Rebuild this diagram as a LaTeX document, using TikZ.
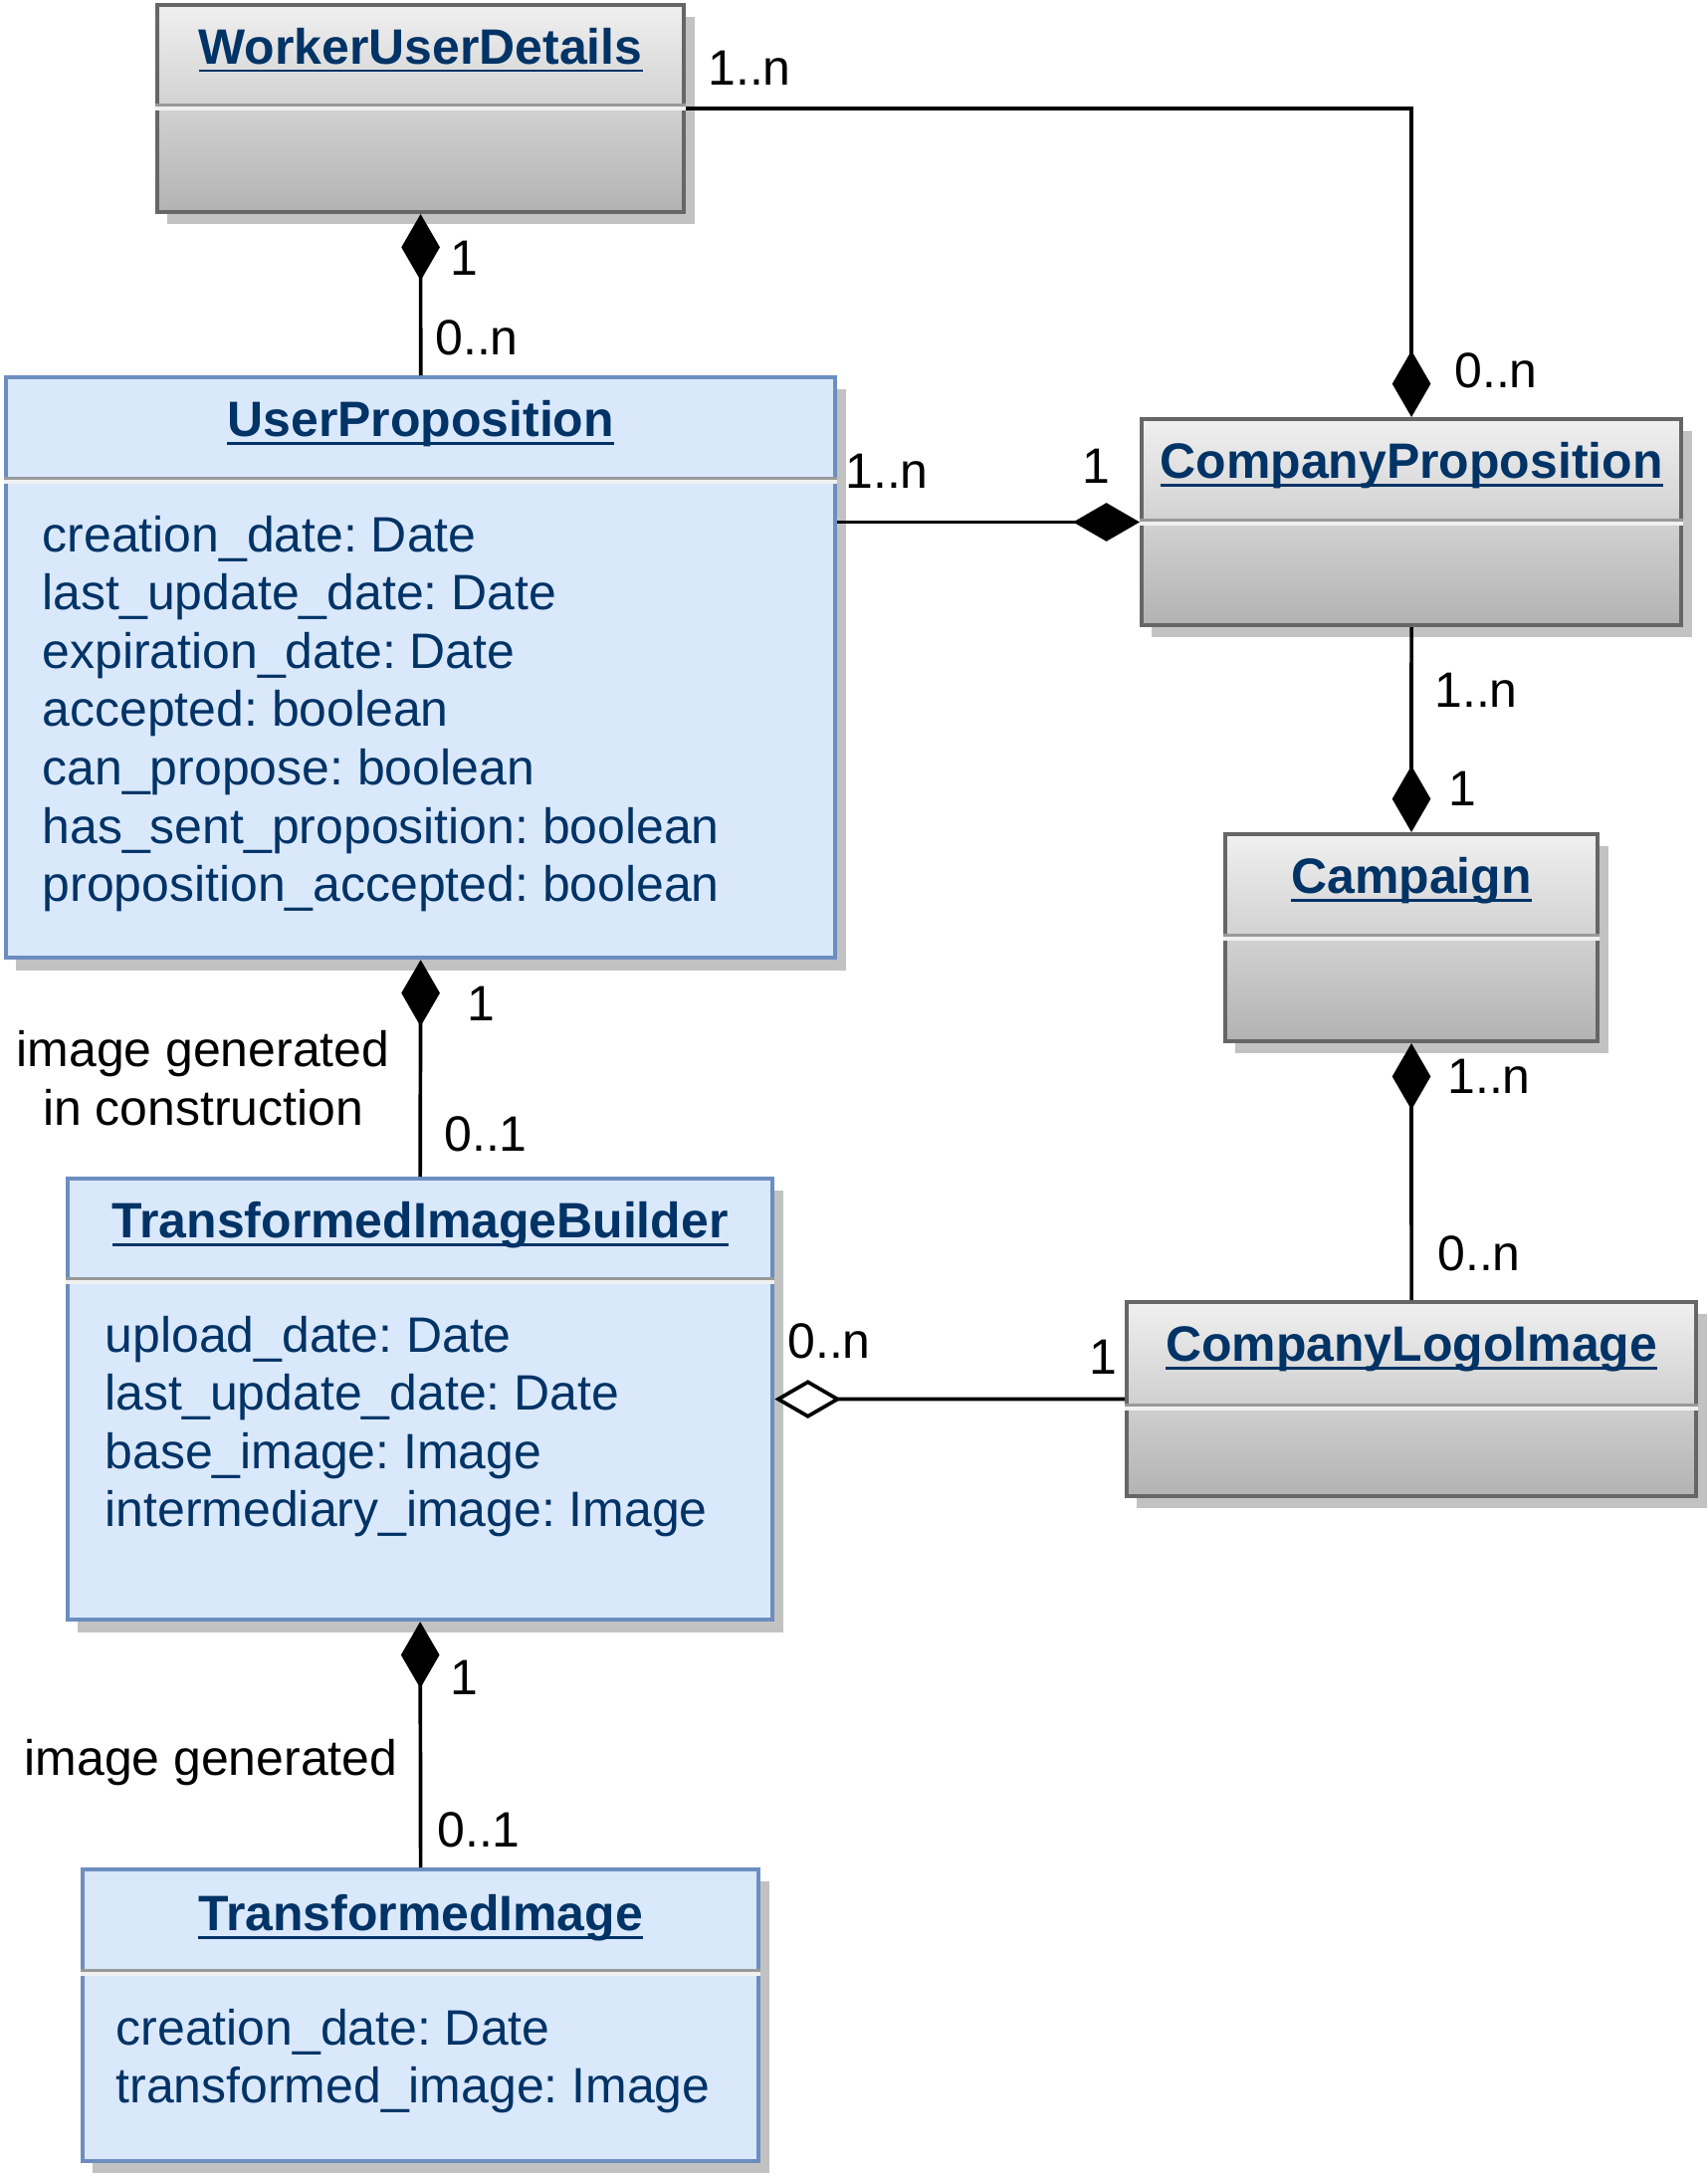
\documentclass[tikz,border=0pt]{standalone}
\usepackage{fontspec}
\setmainfont{Liberation Sans}
\usetikzlibrary{arrows.meta,shadows}

\definecolor{umlnavy}{RGB}{0,51,102}
\definecolor{umlblue}{RGB}{218,232,252}
\definecolor{umlblueline}{RGB}{108,142,191}
\definecolor{umlgrayline}{RGB}{102,102,102}

% underlined class name, the rule runs through the descenders
\newcommand{\clsname}[1]{\setbox0\hbox{\bfseries #1}\rlap{\rule[-0.17em]{\wd0}{0.06em}}\box0}

\frenchspacing

\begin{document}
\begin{tikzpicture}[x=0.01cm, y=-0.01cm,
    every node/.style={font=\fontsize{14.2}{16.7}\selectfont},
    classshadow/.style={drop shadow={shadow xshift=3pt, shadow yshift=-3.5pt, fill=black!24, opacity=1}},
    graybox/.style={draw=umlgrayline, line width=1.1pt, top color=black!6, bottom color=black!30,
        classshadow, anchor=north west, inner sep=0pt},
    bluebox/.style={draw=umlblueline, line width=1.1pt, fill=umlblue,
        classshadow, anchor=north west, inner sep=0pt},
    clstitle/.style={text=umlnavy, anchor=base, inner sep=0pt},
    attr/.style={text=umlnavy, anchor=base west, inner sep=0pt},
    mult/.style={anchor=base, inner sep=0pt},
    divline/.style={line width=0.9pt, black!40},
    divlight/.style={line width=0.9pt, black!6},
    assoc/.style={line width=1.05pt},
    comp/.style={assoc, -{Diamond[length=19pt,width=11pt]}},
    aggr/.style={assoc, -{Diamond[open,length=19pt,width=11pt]}}
]

    % Fix the page to the size of the reference (1 unit = 1 pixel)
    \useasboundingbox (0,0) rectangle (1716,2187);

    % Class boxes, placed by their top left corners
    \node[graybox, minimum width=5.29cm, minimum height=2.08cm] (wud) at (156,3) {};
    \node[bluebox, minimum width=8.33cm, minimum height=5.83cm] (up) at (4,377) {};
    \node[graybox, minimum width=5.42cm, minimum height=2.07cm] (cp) at (1145,419) {};
    \node[graybox, minimum width=3.74cm, minimum height=2.08cm] (camp) at (1229,836) {};
    \node[bluebox, minimum width=7.08cm, minimum height=4.43cm] (tib) at (66,1182) {};
    \node[graybox, minimum width=5.72cm, minimum height=1.95cm] (cli) at (1130,1306) {};
    \node[bluebox, minimum width=6.79cm, minimum height=2.93cm] (ti) at (81,1876) {};

    % Dividers between name and attribute compartments
    \foreach \n/\d in {wud/106, up/481, cp/523, camp/940, tib/1285, cli/1412, ti/1980} {
        \draw[divline] (\n.west |- 0,\d) -- (\n.east |- 0,\d);
        \draw[divlight] (\n.west |- 0,{\d+3}) -- (\n.east |- 0,{\d+3});
    }

    % Class names
    \node[clstitle] (wud-name) at (wud.north |- 0,64) {\clsname{WorkerUserDetails}};
    \node[clstitle] (up-name) at (up.north |- 0,438) {\clsname{UserProposition}};
    \node[clstitle] (cp-name) at (cp.north |- 0,480) {\clsname{CompanyProposition}};
    \node[clstitle] (camp-name) at (camp.north |- 0,897) {\clsname{Campaign}};
    \node[clstitle] (tib-name) at (tib.north |- 0,1243) {\clsname{TransformedImageBuilder}};
    \node[clstitle] (cli-name) at (cli.north |- 0,1367) {\clsname{CompanyLogoImage}};
    \node[clstitle] (ti-name) at (ti.north |- 0,1939) {\clsname{TransformedImage}};

    % Attributes, one line each
    \foreach \a [count=\i] in {creation\_date: Date, last\_update\_date: Date,
        expiration\_date: Date, accepted: boolean, can\_propose: boolean,
        has\_sent\_proposition: boolean, proposition\_accepted: boolean}
        \node[attr] (up-a\i) at (42,{554+(\i-1)*58.6}) {\a};
    \foreach \a [count=\i] in {upload\_date: Date, last\_update\_date: Date,
        base\_image: Image, intermediary\_image: Image}
        \node[attr] (tib-a\i) at (105,{1358+(\i-1)*58.6}) {\a};
    \foreach \a [count=\i] in {creation\_date: Date, transformed\_image: Image}
        \node[attr] (ti-a\i) at (116,{2054+(\i-1)*58.6}) {\a};

    % Associations
    \draw[comp] (up.north) -- (wud.south);
    \draw[comp] (wud.east) -| (cp.north);
    \draw[comp] (up.east |- cp.west) -- (cp.west);
    \draw[comp] (cp.south) -- (camp.north);
    \draw[comp] (cli.north) -- (camp.south);
    \draw[comp] (tib.north) -- (up.south);
    \draw[aggr] (cli.west) -- (tib.east);
    \draw[comp] (ti.north) -- (tib.south);

    % Multiplicities and role labels
    \node[mult] (m1) at (466,276) {1};
    \node[mult] (m2) at (479,356) {0..n};
    \node[mult] (m3) at (753,85) {1..n};
    \node[mult] (m4) at (1503,389) {0..n};
    \node[mult] (m5) at (891,490) {1..n};
    \node[mult] (m6) at (1101,485) {1};
    \node[mult] (m7) at (1483,710) {1..n};
    \node[mult] (m8) at (1469,809) {1};
    \node[mult] (m9) at (1496,1098) {1..n};
    \node[mult] (m10) at (1486,1276) {0..n};
    \node[mult] (m11) at (483,1025) {1};
    \node[mult] (m12) at (488,1156) {0..1};
    \node[mult] (m13) at (833,1364) {0..n};
    \node[mult] (m14) at (1108,1380) {1};
    \node[mult] (m15) at (466,1702) {1};
    \node[mult] (m16) at (481,1855) {0..1};
    \node[align=center, inner sep=0pt] (role1) at (204,1083) {image generated\\in construction};
    \node[mult] (role2) at (212,1783) {image generated};

\end{tikzpicture}
\end{document}
